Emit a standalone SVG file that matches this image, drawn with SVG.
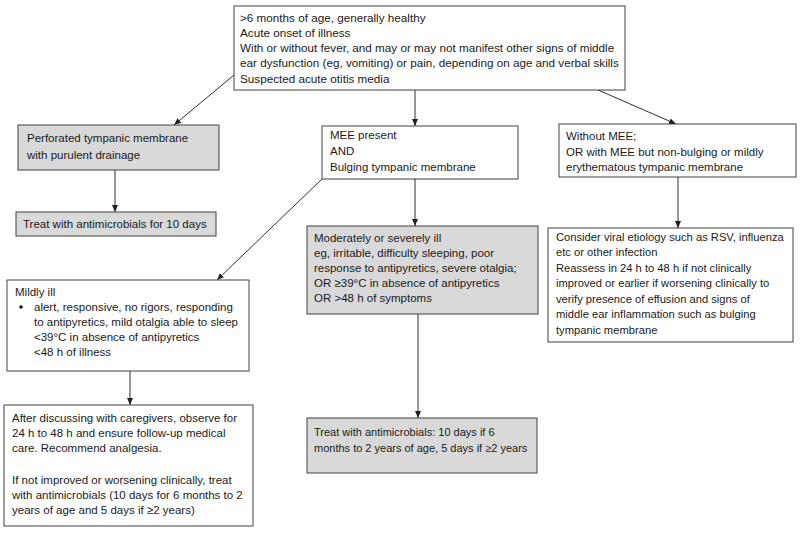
<svg xmlns="http://www.w3.org/2000/svg" width="800" height="534" viewBox="0 0 800 534">
<defs>
<style>
.box{fill:#ffffff;stroke:#404040;stroke-width:1}
.gray{fill:#d9d9d9;stroke:#404040;stroke-width:1}
text{font-family:"Liberation Sans",Arial,sans-serif;font-size:11.5px;fill:#1a1a1a}
.edge{stroke:#303030;stroke-width:1;fill:none;marker-end:url(#ah)}
</style>
<marker id="ah" markerWidth="8" markerHeight="8" refX="7" refY="4" orient="auto" markerUnits="userSpaceOnUse">
<path d="M0,1 L7,4 L0,7 Z" fill="#202020"/>
</marker>
</defs>
<rect width="800" height="534" fill="#ffffff"/>
<g id="connectors">
<line class="edge" x1="234" y1="75" x2="174" y2="125"/>
<line class="edge" x1="415" y1="90" x2="415" y2="126"/>
<line class="edge" x1="598" y1="90" x2="676" y2="124"/>
<line class="edge" x1="115" y1="170" x2="115" y2="212"/>
<line class="edge" x1="415" y1="179" x2="415" y2="226"/>
<line class="edge" x1="322" y1="179" x2="217" y2="280"/>
<line class="edge" x1="678" y1="177" x2="678" y2="228"/>
<line class="edge" x1="130" y1="371" x2="130" y2="405"/>
<line class="edge" x1="418" y1="314" x2="418" y2="418"/>
</g>
<g id="n-top">
<rect class="box" x="234" y="6" width="391" height="84"/>
<text x="240" y="22" style="font-size:11.7px">&gt;6 months of age, generally healthy</text>
<text x="240" y="37" style="font-size:11.7px">Acute onset of illness</text>
<text x="240" y="52" style="font-size:11.7px">With or without fever, and may or may not manifest other signs of middle</text>
<text x="240" y="67" style="font-size:11.7px">ear dysfunction (eg, vomiting) or pain, depending on age and verbal skills</text>
<text x="240" y="83" style="font-size:11.7px">Suspected acute otitis media</text>
</g>
<g id="n-perforated">
<rect class="gray" x="18" y="125" width="201" height="45"/>
<text x="27" y="142">Perforated tympanic membrane</text>
<text x="27" y="159">with purulent  drainage</text>
</g>
<g id="n-treat10">
<rect class="gray" x="16" y="212" width="200" height="24"/>
<text x="23" y="228">Treat with antimicrobials for 10 days</text>
</g>
<g id="n-mee">
<rect class="box" x="322" y="126" width="196" height="53"/>
<text x="330" y="139">MEE present</text>
<text x="330" y="155">AND</text>
<text x="330" y="171">Bulging tympanic membrane</text>
</g>
<g id="n-without">
<rect class="box" x="559" y="124" width="237" height="53"/>
<text x="566" y="140">Without MEE;</text>
<text x="566" y="156">OR with MEE but non-bulging or mildly</text>
<text x="566" y="171">erythematous tympanic membrane</text>
</g>
<g id="n-consider">
<rect class="box" x="548" y="228" width="245" height="114"/>
<text x="556" y="241" style="font-size:11.2px">Consider viral etiology such as RSV, influenza</text>
<text x="556" y="256" style="font-size:11.2px">etc or other infection</text>
<text x="556" y="272" style="font-size:11.2px">Reassess in 24 h to 48 h if not clinically</text>
<text x="556" y="287" style="font-size:11.2px">improved or earlier if worsening clinically to</text>
<text x="556" y="303" style="font-size:11.2px">verify presence of effusion and signs of</text>
<text x="556" y="318" style="font-size:11.2px">middle ear inflammation such as bulging</text>
<text x="556" y="334" style="font-size:11.2px">tympanic membrane</text>
</g>
<g id="n-mildly">
<rect class="box" x="7" y="280" width="242" height="91"/>
<text x="15" y="296">Mildly ill</text>
<circle cx="21" cy="307" r="1.8" fill="#1a1a1a"/>
<text x="34" y="311">alert, responsive, no rigors, responding</text>
<text x="34" y="326">to antipyretics, mild otalgia able to sleep</text>
<text x="34" y="341">&lt;39°C in absence of antipyretics</text>
<text x="34" y="356">&lt;48 h of illness</text>
</g>
<g id="n-after">
<rect class="box" x="4" y="405" width="249" height="121"/>
<text x="12" y="422">After discussing with caregivers, observe for</text>
<text x="12" y="437">24 h to 48 h and ensure follow-up medical</text>
<text x="12" y="452">care. Recommend analgesia.</text>
<text x="12" y="484">If not improved or worsening clinically, treat</text>
<text x="12" y="499">with antimicrobials (10 days for 6 months to 2</text>
<text x="12" y="514">years of age and 5 days if ≥2 years)</text>
</g>
<g id="n-moderately">
<rect class="gray" x="307" y="226" width="231" height="88"/>
<text x="314" y="242">Moderately or severely ill</text>
<text x="314" y="257">eg, irritable, difficulty sleeping, poor</text>
<text x="314" y="272">response to antipyretics, severe otalgia;</text>
<text x="314" y="287">OR ≥39°C in absence of antipyretics</text>
<text x="314" y="302">OR &gt;48 h of symptoms</text>
</g>
<g id="n-treat2">
<rect class="gray" x="307" y="418" width="230" height="55"/>
<text x="314" y="436" style="font-size:11px">Treat with antimicrobials: 10 days if 6</text>
<text x="314" y="452" style="font-size:11px">months to 2 years of age, 5 days if ≥2 years</text>
</g>
</svg>
